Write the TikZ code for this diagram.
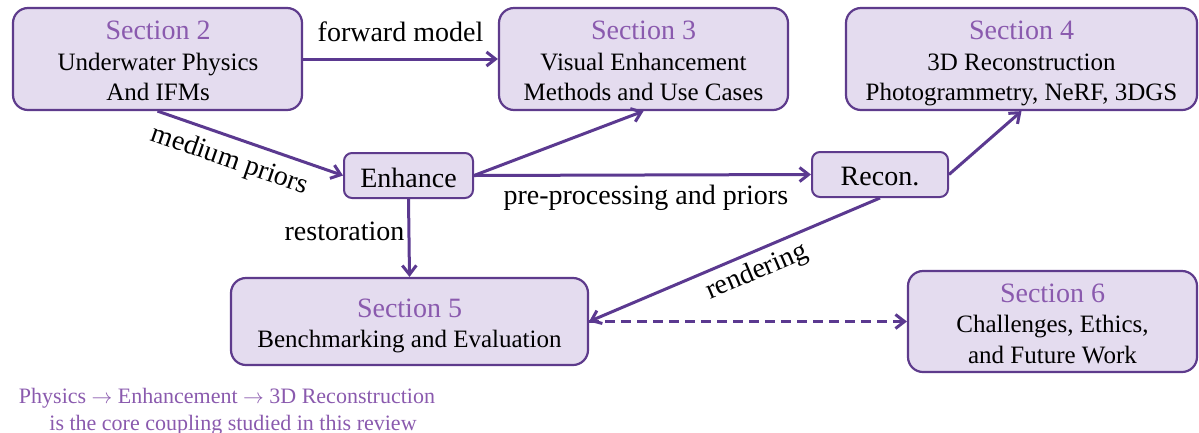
\documentclass[tikz,border=0pt]{standalone}
\usepackage{fontspec}
\setmainfont{Liberation Serif}
\usetikzlibrary{arrows.meta}
\definecolor{boxfill}{HTML}{E4DCEF}
\definecolor{boxline}{HTML}{5E3B8C}
\definecolor{sectxt}{HTML}{8A5AAE}
\definecolor{arrcol}{HTML}{5B3990}
\tikzset{
  secbox/.style={draw=boxline, fill=boxfill, line width=2.2pt, rounded corners=15pt, inner sep=0pt},
  smallbox/.style={draw=boxline, fill=boxfill, line width=2pt, rounded corners=8pt, inner sep=0pt},
  sectitle/.style={text=sectxt, font=\fontsize{28}{30}\selectfont, anchor=base, inner sep=0pt},
  secbody/.style={text=black, font=\fontsize{25}{30}\selectfont, anchor=base, inner sep=0pt},
  smalltext/.style={text=black, font=\fontsize{28}{30}\selectfont, anchor=base, inner sep=0pt},
  arr/.style={draw=arrcol, line width=3pt, -{Straight Barb[length=9pt,width=14pt]}},
  lab/.style={text=black, font=\fontsize{28}{30}\selectfont, inner sep=3pt},
  foot/.style={text=sectxt, font=\fontsize{22}{28}\selectfont, anchor=base, inner sep=0pt}
}
\begin{document}
\begin{tikzpicture}[x=1pt,y=-1pt]
\useasboundingbox (0,0) rectangle (1199,432);

% section boxes
\node[secbox, minimum width=289pt, minimum height=102pt] (s2) at (157.5,59) {};
\node[secbox, minimum width=289pt, minimum height=102pt] (s3) at (643.5,59) {};
\node[secbox, minimum width=351pt, minimum height=102pt] (s4) at (1021.5,59) {};
\node[secbox, minimum width=357pt, minimum height=87pt] (s5) at (409.5,321.5) {};
\node[secbox, minimum width=289pt, minimum height=101pt] (s6) at (1052.5,321.5) {};
\node[smallbox, minimum width=129pt, minimum height=45pt] (enh) at (408.5,175.5) {};
\node[smallbox, minimum width=136pt, minimum height=45pt] (rec) at (880,174.5) {};

% texts
\node[sectitle] (s2t) at (158,39) {Section 2};
\node[secbody] (s2a) at (158,70) {Underwater Physics};
\node[secbody] (s2b) at (158,100) {And IFMs};

\node[sectitle] (s3t) at (643.5,39) {Section 3};
\node[secbody] (s3a) at (643.5,70) {Visual Enhancement};
\node[secbody] (s3b) at (643.5,100) {Methods and Use Cases};

\node[sectitle] (s4t) at (1021.5,39) {Section 4};
\node[secbody] (s4a) at (1021.5,70) {3D Reconstruction};
\node[secbody] (s4b) at (1021.5,100) {Photogrammetry, NeRF, 3DGS};

\node[sectitle] (s5t) at (409.5,317) {Section 5};
\node[secbody] (s5a) at (409.5,347) {Benchmarking and Evaluation};

\node[sectitle] (s6t) at (1052.5,302) {Section 6};
\node[secbody] (s6a) at (1052.5,332) {Challenges, Ethics,};
\node[secbody] (s6b) at (1052.5,363) {and Future Work};

\node[smalltext] (enht) at (408.5,187) {Enhance};
\node[smalltext] (rect) at (880,185) {Recon.};

% connectors
\draw[arr] (s2.east) -- node[lab, above=13pt, anchor=south] (lfm) {forward model} (s3.west);
\draw[arr] (s2.south) -- node[lab, sloped, below=6pt, pos=0.43] (lmp) {medium priors} (enh.west);
\draw[arr] (enh.east) -- (s3.south);
\draw[arr] (enh.east) -- node[lab, below=6pt, pos=0.51] (lpp) {pre-processing and priors} (rec.west);
\draw[arr] (rec.east) -- (s4.south);
\draw[arr] (enh.south) -- node[lab, left=0pt, pos=0.41] (lrs) {restoration} (s5.north);
\draw[arr] (rec.south) -- node[lab, sloped, below=3pt, pos=0.45] (lrd) {rendering} (s5.east);
\draw[arr, dash pattern=on 10pt off 6pt] (s5.east) -- (s6.west);

% footnote
\node[foot] (f1) at (227,403) {Physics $\rightarrow$ Enhancement $\rightarrow$ 3D Reconstruction};
\node[foot] (f2) at (233,430) {is the core coupling studied in this review};
\end{tikzpicture}
\end{document}
